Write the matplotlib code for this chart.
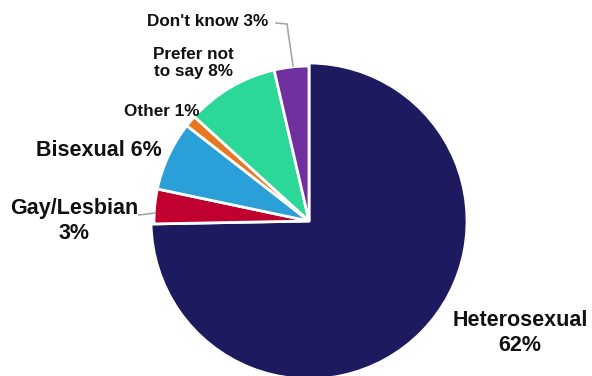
import matplotlib
matplotlib.use("Agg")
import matplotlib.pyplot as plt

categories = ["Heterosexual", "Gay/Lesbian", "Bisexual", "Other", "Prefer not to say", "Don't know"]
values = [62, 3, 6, 1, 8, 3]
labels = ["Heterosexual\n62%", "Gay/Lesbian\n3%", "Bisexual 6%", "Other 1%", "Prefer not\nto say 8%", "Don't know 3%"]
colors = ["#1E1A60", "#C0002F", "#2A9FD8", "#E87722", "#2BD898", "#7030A0"]

W, H = 592, 376
fig = plt.figure(figsize=(W / 100, H / 100), dpi=100)
ax = fig.add_axes([0, 0, 1, 1])

def py(y):
    return H - y

cx, cy, R = 309, 221, 155
wedges, _ = ax.pie(values, startangle=90, counterclock=False, center=(cx, py(cy)), radius=R,
                   colors=colors, explode=[0.034, 0, 0, 0, 0, 0],
                   wedgeprops=dict(edgecolor="white", linewidth=2), frame=True)
wedges[0].set_radius(158)
ax.set_xlim(0, W)
ax.set_ylim(0, H)
ax.set_aspect("equal")
ax.axis("off")

font = "Liberation Sans"
big, small = 15.5, 12.3
pos = [(520, 333, big), (74, 221, big), (99, 151, big), (162, 111, small), (193, 63, small), (208, 21, small)]
for lab, (x, y, fs) in zip(labels, pos):
    ax.text(x, py(y), lab, ha="center", va="center", fontsize=fs, fontweight="bold",
            family=font, color="#111111", linespacing=1.2)

# leader lines
ax.plot([276, 287, 293], [py(23), py(24), py(66)], color="#A6A6A6", lw=1.2)
ax.plot([139, 155], [py(215), py(213)], color="#A6A6A6", lw=1.2)

fig.savefig("out.png", dpi=100)
